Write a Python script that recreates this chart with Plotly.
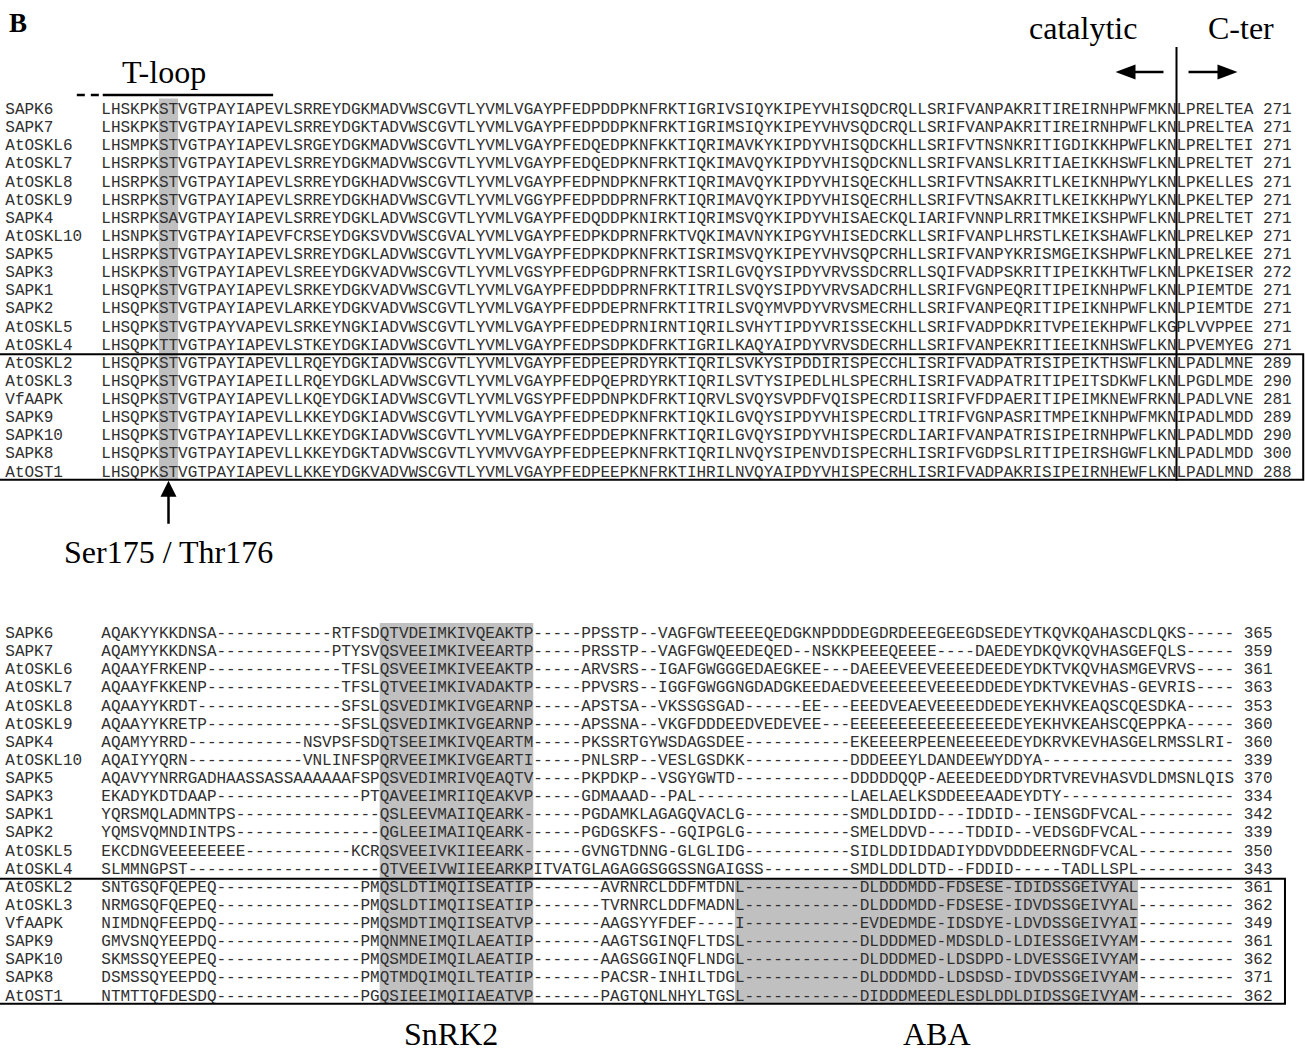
import plotly.graph_objects as go

# ---------------- data ----------------
NAMES = ["SAPK6", "SAPK7", "AtOSKL6", "AtOSKL7", "AtOSKL8", "AtOSKL9", "SAPK4",
         "AtOSKL10", "SAPK5", "SAPK3", "SAPK1", "SAPK2", "AtOSKL5", "AtOSKL4",
         "AtOSKL2", "AtOSKL3", "VfAAPK", "SAPK9", "SAPK10", "SAPK8", "AtOST1"]

TOP_SEQS = [
    "LHSKPKSTVGTPAYIAPEVLSRREYDGKMADVWSCGVTLYVMLVGAYPFEDPDDPKNFRKTIGRIVSIQYKIPEYVHISQDCRQLLSRIFVANPAKRITIREIRNHPWFMKNLPRELTEA",
    "LHSKPKSTVGTPAYIAPEVLSRREYDGKTADVWSCGVTLYVMLVGAYPFEDPDDPKNFRKTIGRIMSIQYKIPEYVHVSQDCRQLLSRIFVANPAKRITIREIRNHPWFLKNLPRELTEA",
    "LHSMPKSTVGTPAYIAPEVLSRGEYDGKMADVWSCGVTLYVMLVGAYPFEDQEDPKNFKKTIQRIMAVKYKIPDYVHISQDCKHLLSRIFVTNSNKRITIGDIKKHPWFLKNLPRELTEI",
    "LHSRPKSTVGTPAYIAPEVLSRREYDGKMADVWSCGVTLYVMLVGAYPFEDQEDPKNFRKTIQKIMAVQYKIPDYVHISQDCKNLLSRIFVANSLKRITIAEIKKHSWFLKNLPRELTET",
    "LHSRPKSTVGTPAYIAPEVLSRREYDGKHADVWSCGVTLYVMLVGAYPFEDPNDPKNFRKTIQRIMAVQYKIPDYVHISQECKHLLSRIFVTNSAKRITLKEIKNHPWYLKNLPKELLES",
    "LHSRPKSTVGTPAYIAPEVLSRREYDGKHADVWSCGVTLYVMLVGGYPFEDPDDPRNFRKTIQRIMAVQYKIPDYVHISQECRHLLSRIFVTNSAKRITLKEIKKHPWYLKNLPKELTEP",
    "LHSRPKSAVGTPAYIAPEVLSRREYDGKLADVWSCGVTLYVMLVGAYPFEDQDDPKNIRKTIQRIMSVQYKIPDYVHISAECKQLIARIFVNNPLRRITMKEIKSHPWFLKNLPRELTET",
    "LHSNPKSTVGTPAYIAPEVFCRSEYDGKSVDVWSCGVALYVMLVGAYPFEDPKDPRNFRKTVQKIMAVNYKIPGYVHISEDCRKLLSRIFVANPLHRSTLKEIKSHAWFLKNLPRELKEP",
    "LHSRPKSTVGTPAYIAPEVLSRREYDGKLADVWSCGVTLYVMLVGAYPFEDPKDPKNFRKTISRIMSVQYKIPEYVHVSQPCRHLLSRIFVANPYKRISMGEIKSHPWFLKNLPRELKEE",
    "LHSKPKSTVGTPAYIAPEVLSREEYDGKVADVWSCGVTLYVMLVGSYPFEDPGDPRNFRKTISRILGVQYSIPDYVRVSSDCRRLLSQIFVADPSKRITIPEIKKHTWFLKNLPKEISER",
    "LHSQPKSTVGTPAYIAPEVLSRKEYDGKVADVWSCGVTLYVMLVGAYPFEDPDDPRNFRKTITRILSVQYSIPDYVRVSADCRHLLSRIFVGNPEQRITIPEIKNHPWFLKNLPIEMTDE",
    "LHSQPKSTVGTPAYIAPEVLARKEYDGKVADVWSCGVTLYVMLVGAYPFEDPDEPRNFRKTITRILSVQYMVPDYVRVSMECRHLLSRIFVANPEQRITIPEIKNHPWFLKNLPIEMTDE",
    "LHSQPKSTVGTPAYVAPEVLSRKEYNGKIADVWSCGVTLYVMLVGAYPFEDPEDPRNIRNTIQRILSVHYTIPDYVRISSECKHLLSRIFVADPDKRITVPEIEKHPWFLKGPLVVPPEE",
    "LHSQPKTTVGTPAYIAPEVLSTKEYDGKIADVWSCGVTLYVMLVGAYPFEDPSDPKDFRKTIGRILKAQYAIPDYVRVSDECRHLLSRIFVANPEKRITIEEIKNHSWFLKNLPVEMYEG",
    "LHSQPKSTVGTPAYIAPEVLLRQEYDGKIADVWSCGVTLYVMLVGAYPFEDPEEPRDYRKTIQRILSVKYSIPDDIRISPECCHLISRIFVADPATRISIPEIKTHSWFLKNLPADLMNE",
    "LHSQPKSTVGTPAYIAPEILLRQEYDGKLADVWSCGVTLYVMLVGAYPFEDPQEPRDYRKTIQRILSVTYSIPEDLHLSPECRHLISRIFVADPATRITIPEITSDKWFLKNLPGDLMDE",
    "LHSQPKSTVGTPAYIAPEVLLKQEYDGKIADVWSCGVTLYVMLVGSYPFEDPDNPKDFRKTIQRVLSVQYSVPDFVQISPECRDIISRIFVFDPAERITIPEIMKNEWFRKNLPADLVNE",
    "LHSQPKSTVGTPAYIAPEVLLKKEYDGKIADVWSCGVTLYVMLVGAYPFEDPEDPKNFRKTIQKILGVQYSIPDYVHISPECRDLITRIFVGNPASRITMPEIKNHPWFMKNIPADLMDD",
    "LHSQPKSTVGTPAYIAPEVLLKKEYDGKIADVWSCGVTLYVMLVGAYPFEDPDEPKNFRKTIQRILGVQYSIPDYVHISPECRDLIARIFVANPATRISIPEIRNHPWFLKNLPADLMDD",
    "LHSQPKSTVGTPAYIAPEVLLKKEYDGKTADVWSCGVTLYVMVVGAYPFEDPEEPKNFRKTIQRILNVQYSIPENVDISPECRHLISRIFVGDPSLRITIPEIRSHGWFLKNLPADLMDD",
    "LHSQPKSTVGTPAYIAPEVLLKKEYDGKVADVWSCGVTLYVMLVGAYPFEDPEEPKNFRKTIHRILNVQYAIPDYVHISPECRHLISRIFVADPAKRISIPEIRNHEWFLKNLPADLMND",
]
TOP_ENDS = [271, 271, 271, 271, 271, 271, 271, 271, 271, 272, 271, 271, 271, 271,
            289, 290, 281, 289, 290, 300, 288]

BOTTOM_SEQS = [
    "AQAKYYKKDNSA------------RTFSDQTVDEIMKIVQEAKTP-----PPSSTP--VAGFGWTEEEEQEDGKNPDDDEGDRDEEEGEEGDSEDEYTKQVKQAHASCDLQKS-----",
    "AQAMYYKKDNSA------------PTYSVQSVEEIMKIVEEARTP-----PRSSTP--VAGFGWQEEDEQED--NSKKPEEEQEEEE----DAEDEYDKQVKQVHASGEFQLS-----",
    "AQAAYFRKENP--------------TFSLQSVEEIMKIVEEAKTP-----ARVSRS--IGAFGWGGGEDAEGKEE---DAEEEVEEVEEEEDEEDEYDKTVKQVHASMGEVRVS----",
    "AQAAYFKKENP--------------TFSLQTVEEIMKIVADAKTP-----PPVSRS--IGGFGWGGNGDADGKEEDAEDVEEEEEEVEEEEDDEDEYDKTVKEVHAS-GEVRIS----",
    "AQAAYYKRDT---------------SFSLQSVEDIMKIVGEARNP-----APSTSA--VKSSGSGAD------EE---EEEDVEAEVEEEEDDEDEYEKHVKEAQSCQESDKA-----",
    "AQAAYYKRETP--------------SFSLQSVEDIMKIVGEARNP-----APSSNA--VKGFDDDEEDVEDEVEE---EEEEEEEEEEEEEEEEDEYEKHVKEAHSCQEPPKA-----",
    "AQAMYYRRD------------NSVPSFSDQTSEEIMKIVQEARTM-----PKSSRTGYWSDAGSDEE-----------EKEEEERPEENEEEEEDEYDKRVKEVHASGELRMSSLRI-",
    "AQAIYYQRN------------VNLINFSPQRVEEIMKIVGEARTI-----PNLSRP--VESLGSDKK-----------DDDEEEYLDANDEEWYDDYA--------------------",
    "AQAVYYNRRGADHAASSASSAAAAAAFSPQSVEDIMRIVQEAQTV-----PKPDKP--VSGYGWTD------------DDDDDQQP-AEEEDEEDDYDRTVREVHASVDLDMSNLQIS",
    "EKADYKDTDAAP---------------PTQAVEEIMRIIQEAKVP-----GDMAAAD--PAL----------------LAELAELKSDDEEEAADEYDTY------------------",
    "YQRSMQLADMNTPS---------------QSLEEVMAIIQEARK------PGDAMKLAGAGQVACLG-----------SMDLDDIDD---IDDID--IENSGDFVCAL----------",
    "YQMSVQMNDINTPS---------------QGLEEIMAIIQEARK------PGDGSKFS--GQIPGLG-----------SMELDDVD----TDDID--VEDSGDFVCAL----------",
    "EKCDNGVEEEEEEEE-----------KCRQSVEEIVKIIEEARK------GVNGTDNNG-GLGLIDG-----------SIDLDDIDDADIYDDVDDDEERNGDFVCAL----------",
    "SLMMNGPST--------------------QTVEEIVWIIEEARKPITVATGLAGAGGSGGSSNGAIGSS---------SMDLDDLDTD--FDDID-----TADLLSPL----------",
    "SNTGSQFQEPEQ---------------PMQSLDTIMQIISEATIP-------AVRNRCLDDFMTDNL------------DLDDDMDD-FDSESE-IDIDSSGEIVYAL----------",
    "NRMGSQFQEPEQ---------------PMQSLDTIMQIISEATIP-------TVRNRCLDDFMADNL------------DLDDDMDD-FDSESE-IDVDSSGEIVYAL----------",
    "NIMDNQFEEPDQ---------------PMQSMDTIMQIISEATVP-------AAGSYYFDEF----I------------EVDEDMDE-IDSDYE-LDVDSSGEIVYAI----------",
    "GMVSNQYEEPDQ---------------PMQNMNEIMQILAEATIP-------AAGTSGINQFLTDSL------------DLDDDMED-MDSDLD-LDIESSGEIVYAM----------",
    "SKMSSQYEEPEQ---------------PMQSMDEIMQILAEATIP-------AAGSGGINQFLNDGL------------DLDDDMED-LDSDPD-LDVESSGEIVYAM----------",
    "DSMSSQYEEPDQ---------------PMQTMDQIMQILTEATIP-------PACSR-INHILTDGL------------DLDDDMDD-LDSDSD-IDVDSSGEIVYAM----------",
    "NTMTTQFDESDQ---------------PGQSIEEIMQIIAEATVP-------PAGTQNLNHYLTGSL------------DIDDDMEEDLESDLDDLDIDSSGEIVYAM----------",
]
BOTTOM_ENDS = [365, 359, 361, 363, 353, 360, 360, 339, 370, 334, 342, 339, 350, 343,
               361, 362, 349, 361, 362, 371, 362]

# annotated features (alignment columns, 0-based)
SITE_COLS = (6, 7)          # Ser175 / Thr176
TLOOP_COLS = (0, 17)        # T-loop bar
SNRK2_COLS = (29, 44)       # SnRK2 box
ABA_COLS = (66, 107)        # ABA box
BOUNDARY_COL = 112          # catalytic | C-ter
BOXED_FIRST_ROW = 14        # rows from AtOSKL2 down are boxed

# ---------------- sanity check ----------------
bad = [(n, len(s)) for n, s in zip(NAMES, TOP_SEQS) if len(s) != len(TOP_SEQS[0])]
bad += [(n, len(s)) for n, s in zip(NAMES, BOTTOM_SEQS) if len(s) != len(BOTTOM_SEQS[0])]
if bad:
    raise ValueError("length mismatch: %s (top %d, bottom %d)" % (bad, len(TOP_SEQS[0]), len(BOTTOM_SEQS[0])))

# ---------------- layout geometry ----------------
W, H = 1305, 1052
X0, CW = 101.3, 9.6         # left edge of column 0, column width (px)
LH = 18.13                  # row pitch (px)
TOP_Y0, BOT_Y0 = 110.0, 634.0
NAME_COL = -10
SEQ_FONT = dict(family="Liberation Mono, Courier New, monospace", size=16, color="#303030")
SERIF = "Liberation Serif, Times New Roman, serif"
SHADE = "#c0c0c0"
INK = "#000000"


def cx(c):
    return X0 + c * CW


def ry(y0, r):
    return y0 + r * LH


xs, ys, ts = [], [], []
for y0, seqs, ends in ((TOP_Y0, TOP_SEQS, TOP_ENDS), (BOT_Y0, BOTTOM_SEQS, BOTTOM_ENDS)):
    for r, (name, seq, end) in enumerate(zip(NAMES, seqs, ends)):
        y = ry(y0, r)
        items = [(NAME_COL + i, ch) for i, ch in enumerate(name)]
        items += [(i, ch) for i, ch in enumerate(seq)]
        items += [(len(seq) + 1 + i, ch) for i, ch in enumerate(str(end))]
        for c, ch in items:
            xs.append(cx(c) + CW / 2)
            ys.append(y)
            ts.append(ch)

fig = go.Figure()
fig.add_trace(go.Scatter(x=xs, y=ys, text=ts, mode="text", textposition="middle center",
                         textfont=SEQ_FONT, hoverinfo="skip", showlegend=False))

shapes = []
n_rows = len(NAMES)
top_len, bot_len = len(TOP_SEQS[0]), len(BOTTOM_SEQS[0])

# shading
shapes.append(dict(type="rect", layer="below", x0=cx(SITE_COLS[0]), x1=cx(SITE_COLS[1] + 1),
                   y0=ry(TOP_Y0, -0.64), y1=ry(TOP_Y0, n_rows - 0.6),
                   fillcolor=SHADE, line=dict(width=0)))
shapes.append(dict(type="rect", layer="below", x0=cx(SNRK2_COLS[0]), x1=cx(SNRK2_COLS[1] + 1),
                   y0=ry(BOT_Y0, -0.6), y1=ry(BOT_Y0, n_rows - 0.6),
                   fillcolor=SHADE, line=dict(width=0)))
shapes.append(dict(type="rect", layer="below", x0=cx(ABA_COLS[0]), x1=cx(ABA_COLS[1] + 1),
                   y0=ry(BOT_Y0, BOXED_FIRST_ROW - 0.5), y1=ry(BOT_Y0, n_rows - 0.6),
                   fillcolor=SHADE, line=dict(width=0)))

# boxes around the lower group
shapes.append(dict(type="rect", x0=-3, x1=cx(top_len + 5.2),
                   y0=ry(TOP_Y0, BOXED_FIRST_ROW - 0.53), y1=ry(TOP_Y0, n_rows - 0.6),
                   line=dict(color=INK, width=2)))
shapes.append(dict(type="rect", x0=-3, x1=cx(bot_len + 5.3),
                   y0=ry(BOT_Y0, BOXED_FIRST_ROW - 0.5), y1=ry(BOT_Y0, n_rows - 0.6),
                   line=dict(color=INK, width=2)))

# catalytic / C-ter boundary
bx = cx(BOUNDARY_COL)
shapes.append(dict(type="line", x0=bx, x1=bx, y0=47, y1=ry(TOP_Y0, n_rows - 0.55),
                   line=dict(color=INK, width=2)))
ay = 72
shapes.append(dict(type="line", x0=bx - 13, x1=bx - 42, y0=ay, y1=ay, line=dict(color=INK, width=2.5)))
shapes.append(dict(type="path", path="M %f %f L %f %f L %f %f Z" % (bx - 61, ay, bx - 41, ay - 7.5, bx - 41, ay + 7.5),
                   fillcolor=INK, line=dict(width=0)))
shapes.append(dict(type="line", x0=bx + 12, x1=bx + 42, y0=ay, y1=ay, line=dict(color=INK, width=2.5)))
shapes.append(dict(type="path", path="M %f %f L %f %f L %f %f Z" % (bx + 61, ay, bx + 41, ay - 7.5, bx + 41, ay + 7.5),
                   fillcolor=INK, line=dict(width=0)))

# T-loop bar
tl_y = 95
shapes.append(dict(type="line", x0=cx(TLOOP_COLS[0] + 0.15), x1=cx(TLOOP_COLS[1] + 0.9), y0=tl_y, y1=tl_y,
                   line=dict(color=INK, width=2.5)))
shapes.append(dict(type="line", x0=cx(TLOOP_COLS[0] - 2.55), x1=cx(TLOOP_COLS[0] - 0.25), y0=tl_y, y1=tl_y,
                   line=dict(color=INK, width=2.5, dash="8px,6px")))

# Ser175 / Thr176 arrow
sx = cx(SITE_COLS[0]) + CW
tip = ry(TOP_Y0, n_rows - 0.55)
shapes.append(dict(type="line", x0=sx, x1=sx, y0=tip + 14, y1=tip + 43, line=dict(color=INK, width=2.5)))
shapes.append(dict(type="path", path="M %f %f L %f %f L %f %f Z" % (sx, tip, sx - 8, tip + 16, sx + 8, tip + 16),
                   fillcolor=INK, line=dict(width=0)))

annotations = [
    dict(text="<b>B</b>", x=18, y=23, font=dict(family=SERIF, size=27, color=INK)),
    dict(text="T-loop", x=164, y=72, font=dict(family=SERIF, size=32, color=INK)),
    dict(text="catalytic", x=1083, y=27.5, font=dict(family=SERIF, size=32, color=INK)),
    dict(text="C-ter", x=1241, y=27.5, font=dict(family=SERIF, size=32, color=INK)),
    dict(text="Ser175 / Thr176", x=sx, y=552, font=dict(family=SERIF, size=32, color=INK)),
    dict(text="SnRK2", x=(cx(SNRK2_COLS[0]) + cx(SNRK2_COLS[1] + 1)) / 2 - 6, y=1034,
         font=dict(family=SERIF, size=32, color=INK)),
    dict(text="ABA", x=(cx(ABA_COLS[0]) + cx(ABA_COLS[1] + 1)) / 2, y=1034,
         font=dict(family=SERIF, size=32, color=INK)),
]
for a in annotations:
    a.update(xref="x", yref="y", showarrow=False, xanchor="center", yanchor="middle")

fig.update_layout(
    width=W, height=H, margin=dict(l=0, r=0, t=0, b=0),
    paper_bgcolor="white", plot_bgcolor="white",
    xaxis=dict(range=[0, W], visible=False, fixedrange=True),
    yaxis=dict(range=[H, 0], visible=False, fixedrange=True),
    shapes=shapes, annotations=annotations, showlegend=False,
)

fig.write_html("out.html", post_script="document.body.style.margin='0px';",
               config={"displayModeBar": False})
